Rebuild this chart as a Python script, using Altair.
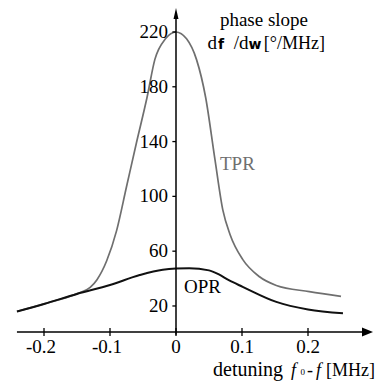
import altair as alt
import pandas as pd

# ---- data ----
tpr_x = [-0.241, -0.2, -0.15, -0.13, -0.12, -0.105, -0.09, -0.075, -0.06, -0.044,
         -0.032, -0.016, 0.0, 0.016, 0.031, 0.045, 0.059, 0.071, 0.082, 0.101,
         0.126, 0.152, 0.202, 0.25]
tpr_y = [16, 21.5, 29, 33.5, 39, 53, 75, 107, 139, 172,
         200, 215, 220, 215, 200, 172, 127, 90, 72, 54,
         41.5, 35, 30.5, 27]
opr_x = [-0.241, -0.2, -0.15, -0.1, -0.055, -0.02, 0.0, 0.02, 0.05, 0.065,
         0.08, 0.101, 0.152, 0.2, 0.253]
opr_y = [16, 21.5, 28.8, 35.3, 42.6, 46.5, 47.3, 47.5, 46.0, 43.0,
         38.8, 34, 23, 17.5, 14.7]
x_ticks_neg = [-0.2, -0.1]
x_tick_labels_neg = ["-0.2", "-0.1"]
x_ticks_pos = [0.0, 0.1, 0.2]
x_tick_labels_pos = ["0", "0.1", "0.2"]
y_ticks = [20, 60, 100, 140, 180, 220]
y_tick_labels = ["20", "60", "100", "140", "180", "220"]

SERIF = "Liberation Serif"
FS = 19
PXU = 660.0  # pixels per x unit


def px(p):
    return (p - 176) / PXU


X = alt.Scale(domain=[-0.25455, 0.30303], nice=False, zero=False)
Y = alt.Scale(domain=[-31.84, 237.5], nice=False, zero=False)


def xq(f="x"):
    return alt.X(f + ":Q", scale=X, axis=None)


def yq(f="y"):
    return alt.Y(f + ":Q", scale=Y, axis=None)


def text_layer(df, **kw):
    return alt.Chart(df).mark_text(**kw).encode(x=xq(), y=yq(), text="t:N")


tpr = pd.DataFrame({"x": tpr_x, "y": tpr_y})
opr = pd.DataFrame({"x": opr_x, "y": opr_y})

tpr_line = alt.Chart(tpr).mark_line(interpolate="monotone", color="#6f6f6f",
                                    strokeWidth=1.7).encode(x=xq(), y=yq())
opr_line = alt.Chart(opr).mark_line(interpolate="monotone", color="#111111",
                                    strokeWidth=2).encode(x=xq(), y=yq())

AX = 1.0  # value where the horizontal axis crosses
axes_df = pd.DataFrame({"x": [-0.241, 0.0], "x2": [0.2833, 0.0],
                        "y": [AX, -1.0], "y2": [AX, 230.0]})
axes = alt.Chart(axes_df).mark_rule(color="black", strokeWidth=1.5).encode(
    x=xq(), x2="x2:Q", y=yq(), y2="y2:Q")

all_xt = x_ticks_neg + x_ticks_pos
xt_df = pd.DataFrame({"x": all_xt, "y": [AX - 2.9] * 5, "y2": [AX + 2.9] * 5})
xticks = alt.Chart(xt_df).mark_rule(color="black", strokeWidth=1.3).encode(
    x=xq(), y=yq(), y2="y2:Q")
yt_df = pd.DataFrame({"x": [-0.0055] * 6, "x2": [0.0] * 6, "y": y_ticks})
yticks = alt.Chart(yt_df).mark_rule(color="black", strokeWidth=1.3).encode(
    x=xq(), x2="x2:Q", y=yq())

up = alt.Chart(pd.DataFrame({"x": [0.0], "y": [233.5]})).mark_point(
    shape="M0,-1L0.45,1L-0.45,1Z", size=121, filled=True, color="black",
    opacity=1).encode(x=xq(), y=yq())
right = alt.Chart(pd.DataFrame({"x": [0.29015], "y": [AX]})).mark_point(
    shape="M1,0L-1,-0.8L-1,0.8Z", size=121, filled=True, color="black",
    opacity=1).encode(x=xq(), y=yq())

xlab_pos = text_layer(pd.DataFrame({"x": x_ticks_pos, "y": [-10.3] * 3, "t": x_tick_labels_pos}),
                      align="center", baseline="middle", font=SERIF, fontSize=FS, color="black")
xlab_neg = text_layer(pd.DataFrame({"x": [v + 12 / PXU for v in x_ticks_neg], "y": [-10.3] * 2,
                                    "t": x_tick_labels_neg}),
                      align="right", baseline="middle", font=SERIF, fontSize=FS, color="black")
ylab = text_layer(pd.DataFrame({"x": [-0.012] * 6, "y": y_ticks, "t": y_tick_labels}),
                  align="right", baseline="middle", font=SERIF, fontSize=FS, color="black")

tpr_lab = text_layer(pd.DataFrame({"x": [px(220)], "y": [123.6], "t": ["TPR"]}),
                     align="left", baseline="middle", font=SERIF, fontSize=FS, color="#6f6f6f")
opr_lab = text_layer(pd.DataFrame({"x": [px(184)], "y": [33.5], "t": ["OPR"]}),
                     align="left", baseline="middle", font=SERIF, fontSize=FS, color="black")

title1 = text_layer(pd.DataFrame({"x": [px(264)], "y": [224.2], "t": ["phase slope"]}),
                    align="center", baseline="alphabetic", font=SERIF, fontSize=FS, color="black")

# second title line: d f /d w [°/MHz]
T2Y = 207.6
t2_d1 = text_layer(pd.DataFrame({"x": [px(217)], "y": [T2Y], "t": ["d"]}),
                   align="right", baseline="alphabetic", font=SERIF, fontSize=FS, color="black")
t2_d2 = text_layer(pd.DataFrame({"x": [px(248.5)], "y": [T2Y], "t": ["/d"]}),
                   align="right", baseline="alphabetic", font=SERIF, fontSize=FS, color="black")
t2_unit = text_layer(pd.DataFrame({"x": [px(325)], "y": [T2Y], "t": ["[°/MHz]"]}),
                     align="right", baseline="alphabetic", font=SERIF, fontSize=18, color="black")
t2_sans = text_layer(pd.DataFrame({"x": [px(218), px(248.5)], "y": [T2Y] * 2, "t": ["f", "w"]}),
                     align="left", baseline="alphabetic", font="DejaVu Sans", fontSize=14,
                     fontWeight="bold", color="black")

# x-axis title: detuning f0 - f [MHz]
XTY = -30.9
XFS = 18
xt_det = text_layer(pd.DataFrame({"x": [px(213)], "y": [XTY], "t": ["detuning"]}),
                    align="left", baseline="alphabetic", font=SERIF, fontSize=20, color="black")
xt_dash = text_layer(pd.DataFrame({"x": [px(307)], "y": [XTY], "t": ["-"]}),
                     align="left", baseline="alphabetic", font=SERIF, fontSize=XFS, color="black")
xt_unit = text_layer(pd.DataFrame({"x": [px(375)], "y": [XTY], "t": ["[MHz]"]}),
                     align="right", baseline="alphabetic", font=SERIF, fontSize=XFS, color="black")
xt_ital = text_layer(pd.DataFrame({"x": [px(291), px(316)], "y": [XTY] * 2, "t": ["f", "f"]}),
                     align="left", baseline="alphabetic", font=SERIF, fontSize=XFS,
                     fontStyle="italic", color="black")
xt_sub = text_layer(pd.DataFrame({"x": [px(300.5)], "y": [XTY + 0.6], "t": ["0"]}),
                    align="left", baseline="alphabetic", font=SERIF, fontSize=9, color="black")

chart = alt.layer(
    tpr_line, opr_line, axes, xticks, yticks, up, right,
    xlab_pos, xlab_neg, ylab, tpr_lab, opr_lab, title1,
    t2_d1, t2_d2, t2_unit, t2_sans,
    xt_det, xt_dash, xt_unit, xt_ital, xt_sub,
).properties(
    width=368, height=369, autosize="none",
    padding={"left": 0, "top": 0, "right": 0, "bottom": 8},
    background="white",
).configure_view(stroke=None)

chart.save("out.html", embed_options={"renderer": "svg", "actions": False})
